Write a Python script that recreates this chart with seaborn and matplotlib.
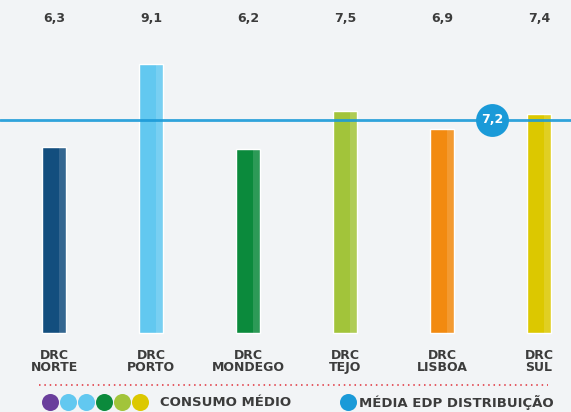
import numpy as np
import pandas as pd
import matplotlib.pyplot as plt
import matplotlib.transforms as mtransforms
import seaborn as sns

# data
regions = ["DRC\nNORTE", "DRC\nPORTO", "DRC\nMONDEGO", "DRC\nTEJO", "DRC\nLISBOA", "DRC\nSUL"]
consumo = [6.3, 9.1, 6.2, 7.5, 6.9, 7.4]
media_edp = 7.2
bar_colors = ["#134E7E", "#62C8F0", "#0B8A3C", "#A2C43A", "#F28A10", "#DCC800"]
legend_dots = ["#6A3E9C", "#62C8F0", "#62C8F0", "#0B8A3C", "#A2C43A", "#DCC800"]
line_color = "#1A9AD8"
text_color = "#3C3C3C"

df = pd.DataFrame({"region": regions, "consumo": consumo})

sns.set_theme(style="white")
plt.rcParams["font.family"] = ["DejaVu Sans"]

fig = plt.figure(figsize=(5.71, 4.12), dpi=100)
fig.patch.set_facecolor("#F2F4F6")
ax = fig.add_axes([0, 0, 1, 1])
ax.set_facecolor("#F2F4F6")

sns.barplot(data=df, x="region", y="consumo", hue="region", palette=bar_colors,
            legend=False, width=0.25, saturation=1, ax=ax, zorder=2)

# lighter strip on the right side of each bar
for p in ax.patches[:len(consumo)]:
    x0, w, h = p.get_x(), p.get_width(), p.get_height()
    ax.bar(x0 + w * 0.72, h, width=w * 0.28, align="edge", color="white",
           alpha=0.14, zorder=3, linewidth=0)

# pixel-based scale: 0 at y=333px, ~29.6 px per unit
ax.set_ylim(-2.67, 11.25)
ax.set_xlim(-0.557, 5.33)
ax.axis("off")

# average line with badge
ax.axhline(media_edp, color=line_color, linewidth=2, zorder=4, alpha=0.9)
ax.scatter([4.52], [media_edp], s=560, color=line_color, zorder=5, linewidths=0)
ax.text(4.52, media_edp, f"{media_edp:.1f}".replace(".", ","), color="white",
        ha="center", va="center", fontsize=9, fontweight="bold", zorder=6)

# value labels on top and category labels below
for i, v in enumerate(consumo):
    ax.text(i, 10.64, f"{v:.1f}".replace(".", ","), ha="center", va="center",
            fontsize=9, fontweight="bold", color=text_color)
    ax.text(i, -0.95, regions[i], ha="center", va="center", fontsize=9,
            fontweight="bold", color=text_color, linespacing=0.9)

# dotted separator
ax.plot([-0.16, 5.09], [-1.76, -1.76], linestyle=(0, (1, 2.5)), color="#E0303A",
        linewidth=1.1)

# legend row (positions in figure pixels)
px = mtransforms.Affine2D().scale(1 / 571, 1 / 412) + fig.transFigure
leg_y = 412 - 402
for k, c in enumerate(legend_dots):
    ax.scatter([50 + 18 * k], [leg_y], s=150, color=c, transform=px,
               clip_on=False, linewidths=0)
ax.text(160, leg_y, "CONSUMO MÉDIO", transform=px, fontsize=9.5,
        fontweight="bold", color=text_color, va="center", ha="left")
ax.scatter([348], [leg_y], s=150, color=line_color, transform=px,
           clip_on=False, linewidths=0)
ax.text(359, leg_y, "MÉDIA EDP DISTRIBUIÇÃO", transform=px, fontsize=9.5,
        fontweight="bold", color=text_color, va="center", ha="left")

fig.savefig("out.png", dpi=100, facecolor=fig.get_facecolor())
